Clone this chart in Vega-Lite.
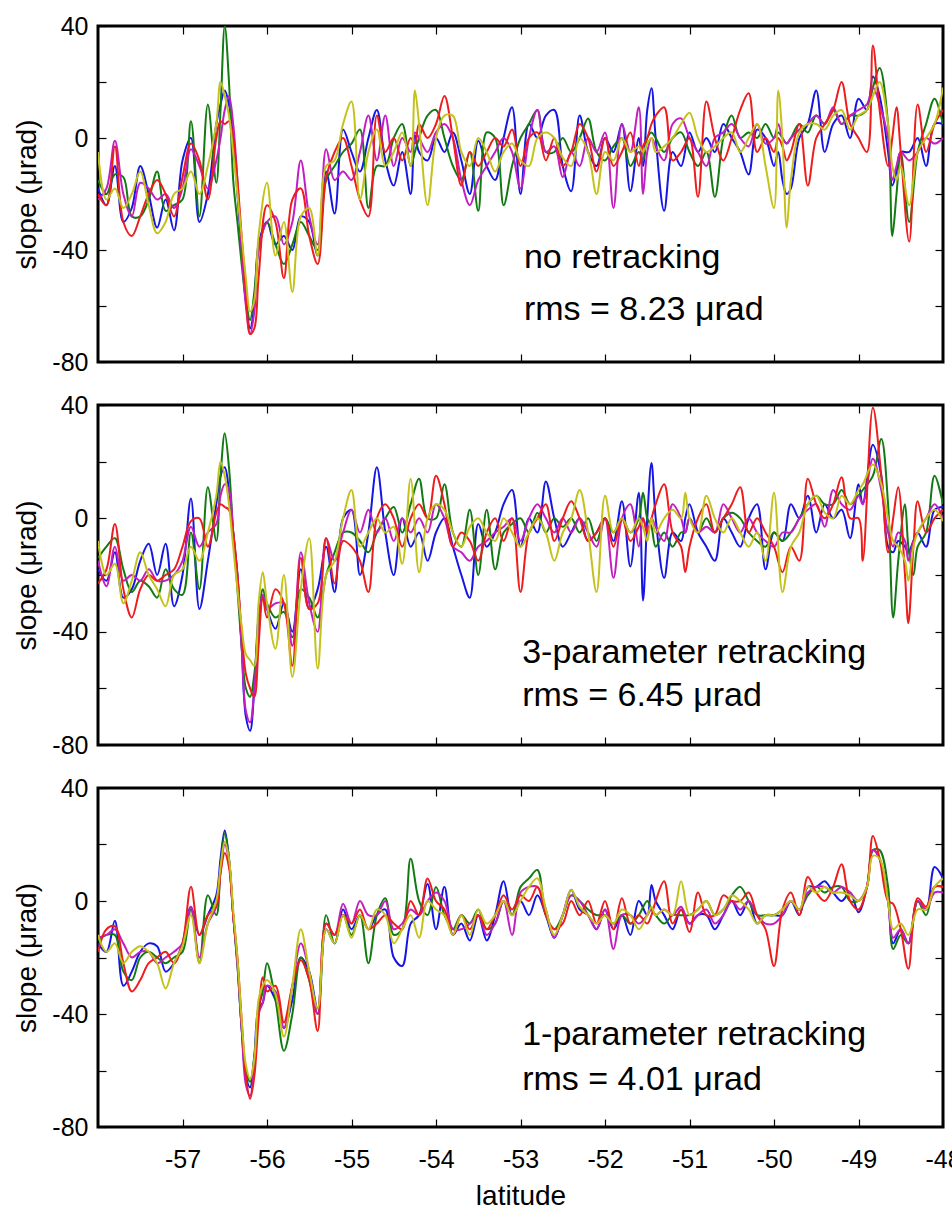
{
"$schema": "https://vega.github.io/schema/vega-lite/v6.json",
"background": "white",
"padding": {"left": 12, "top": 12, "right": 0, "bottom": 0},
"spacing": 43,
"bounds": "flush",
"config": {
  "view": {"stroke": "black", "strokeWidth": 3},
  "font": "Liberation Sans",
  "axis": {"domain": false, "grid": false, "ticks": true, "tickColor": "black", "tickWidth": 1.2, "tickSize": -8, "labelFlush": false, "labelFont": "Liberation Sans", "labelFontSize": 25, "labelColor": "black", "titleFont": "Liberation Sans", "titleFontWeight": "normal", "titleColor": "black"}
},
"datasets": {
"labels": [
  {"p": 1, "x": -52.96, "y": -46.4, "t": "no retracking"},
  {"p": 1, "x": -52.96, "y": -65, "t": "rms = 8.23 μrad"},
  {"p": 2, "x": -52.98, "y": -51, "t": "3-parameter retracking"},
  {"p": 2, "x": -52.98, "y": -66.2, "t": "rms = 6.45 μrad"},
  {"p": 3, "x": -52.98, "y": -51, "t": "1-parameter retracking"},
  {"p": 3, "x": -52.98, "y": -66.9, "t": "rms = 4.01 μrad"}
],
"series": [
{"p":1,"x":-58.0,"B":-18,"G":-15,"R":-20,"M":-22,"Y":-5},
{"p":1,"x":-57.9,"B":-24,"G":-20,"R":-24,"M":-18,"Y":-22},
{"p":1,"x":-57.8,"B":-10,"G":-13,"R":-3,"M":-1,"Y":-18},
{"p":1,"x":-57.7,"B":-30,"G":-14,"R":-30,"M":-20,"Y":-25},
{"p":1,"x":-57.6,"B":-25,"G":-28,"R":-35,"M":-28,"Y":-20},
{"p":1,"x":-57.5,"B":-10,"G":-28,"R":-28,"M":-16,"Y":-12},
{"p":1,"x":-57.4,"B":-20,"G":-22,"R":-20,"M":-18,"Y":-24},
{"p":1,"x":-57.3,"B":-32,"G":-12,"R":-15,"M":-22,"Y":-34},
{"p":1,"x":-57.2,"B":-22,"G":-26,"R":-20,"M":-20,"Y":-30},
{"p":1,"x":-57.1,"B":-33,"G":-24,"R":-28,"M":-25,"Y":-20},
{"p":1,"x":-57.0,"B":-8,"G":-22,"R":-14,"M":-18,"Y":-18},
{"p":1,"x":-56.9,"B":0,"G":6,"R":-2,"M":-4,"Y":-12},
{"p":1,"x":-56.8,"B":-30,"G":-28,"R":-8,"M":-10,"Y":-20},
{"p":1,"x":-56.7,"B":-20,"G":12,"R":-22,"M":-18,"Y":-10},
{"p":1,"x":-56.6,"B":5,"G":-16,"R":0,"M":-8,"Y":5},
{"p":1,"x":-56.55,"B":12,"G":10,"R":6,"M":0,"Y":20},
{"p":1,"x":-56.5,"B":17,"G":40,"R":5,"M":10,"Y":15},
{"p":1,"x":-56.45,"B":12,"G":20,"R":6,"M":15,"Y":8},
{"p":1,"x":-56.4,"B":0,"G":-15,"R":0,"M":5,"Y":-5},
{"p":1,"x":-56.35,"B":-20,"G":-30,"R":-15,"M":-15,"Y":-20},
{"p":1,"x":-56.3,"B":-40,"G":-45,"R":-35,"M":-40,"Y":-35},
{"p":1,"x":-56.25,"B":-58,"G":-58,"R":-55,"M":-60,"Y":-50},
{"p":1,"x":-56.2,"B":-68,"G":-65,"R":-70,"M":-70,"Y":-62},
{"p":1,"x":-56.15,"B":-60,"G":-55,"R":-68,"M":-62,"Y":-58},
{"p":1,"x":-56.1,"B":-38,"G":-40,"R":-50,"M":-40,"Y":-35},
{"p":1,"x":-56.0,"B":-30,"G":-30,"R":-24,"M":-30,"Y":-16},
{"p":1,"x":-55.9,"B":-38,"G":-38,"R":-30,"M":-28,"Y":-42},
{"p":1,"x":-55.8,"B":-35,"G":-45,"R":-50,"M":-38,"Y":-30},
{"p":1,"x":-55.7,"B":-40,"G":-38,"R":-22,"M":-30,"Y":-55},
{"p":1,"x":-55.6,"B":-28,"G":-30,"R":-18,"M":-8,"Y":-28},
{"p":1,"x":-55.5,"B":-30,"G":-35,"R":-35,"M":-28,"Y":-25},
{"p":1,"x":-55.4,"B":-42,"G":-40,"R":-45,"M":-38,"Y":-42},
{"p":1,"x":-55.3,"B":-12,"G":-15,"R":-14,"M":-4,"Y":-10},
{"p":1,"x":-55.2,"B":-27,"G":-10,"R":-5,"M":-15,"Y":-8},
{"p":1,"x":-55.1,"B":3,"G":-5,"R":0,"M":-12,"Y":5},
{"p":1,"x":-55.0,"B":-5,"G":-2,"R":-10,"M":-15,"Y":13},
{"p":1,"x":-54.9,"B":-12,"G":3,"R":-22,"M":-5,"Y":-22},
{"p":1,"x":-54.8,"B":0,"G":-25,"R":-28,"M":8,"Y":-5},
{"p":1,"x":-54.7,"B":10,"G":-10,"R":8,"M":-8,"Y":3},
{"p":1,"x":-54.6,"B":-8,"G":-10,"R":-5,"M":8,"Y":-10},
{"p":1,"x":-54.5,"B":-17,"G":0,"R":0,"M":-10,"Y":-5},
{"p":1,"x":-54.4,"B":-5,"G":5,"R":-8,"M":0,"Y":2},
{"p":1,"x":-54.3,"B":-20,"G":-10,"R":0,"M":-5,"Y":-10},
{"p":1,"x":-54.25,"B":1,"G":-5,"R":-2,"M":2,"Y":17},
{"p":1,"x":-54.2,"B":-5,"G":0,"R":5,"M":0,"Y":5},
{"p":1,"x":-54.1,"B":-8,"G":8,"R":0,"M":-5,"Y":-24},
{"p":1,"x":-54.0,"B":0,"G":10,"R":5,"M":2,"Y":0},
{"p":1,"x":-53.9,"B":-5,"G":0,"R":15,"M":5,"Y":8},
{"p":1,"x":-53.8,"B":2,"G":-10,"R":0,"M":0,"Y":8},
{"p":1,"x":-53.7,"B":-8,"G":-15,"R":-17,"M":-15,"Y":-5},
{"p":1,"x":-53.6,"B":-20,"G":-5,"R":-5,"M":-24,"Y":-10},
{"p":1,"x":-53.5,"B":-1,"G":-26,"R":-10,"M":-15,"Y":0},
{"p":1,"x":-53.4,"B":-10,"G":2,"R":-5,"M":-10,"Y":-5},
{"p":1,"x":-53.3,"B":-15,"G":0,"R":0,"M":-5,"Y":-12},
{"p":1,"x":-53.2,"B":0,"G":-24,"R":-3,"M":0,"Y":-5},
{"p":1,"x":-53.1,"B":11,"G":-10,"R":3,"M":-5,"Y":-2},
{"p":1,"x":-53.0,"B":-20,"G":0,"R":-10,"M":-18,"Y":-8},
{"p":1,"x":-52.9,"B":5,"G":5,"R":0,"M":0,"Y":-10},
{"p":1,"x":-52.8,"B":0,"G":10,"R":2,"M":10,"Y":0},
{"p":1,"x":-52.7,"B":8,"G":-5,"R":-8,"M":-5,"Y":2},
{"p":1,"x":-52.6,"B":10,"G":-5,"R":0,"M":-3,"Y":0},
{"p":1,"x":-52.5,"B":-10,"G":0,"R":-10,"M":-14,"Y":-7},
{"p":1,"x":-52.4,"B":-19,"G":-5,"R":-5,"M":-5,"Y":-10},
{"p":1,"x":-52.3,"B":8,"G":0,"R":5,"M":-10,"Y":0},
{"p":1,"x":-52.2,"B":-5,"G":7,"R":0,"M":0,"Y":-5},
{"p":1,"x":-52.1,"B":-10,"G":-5,"R":-12,"M":-5,"Y":-20},
{"p":1,"x":-52.0,"B":0,"G":-8,"R":0,"M":2,"Y":-5},
{"p":1,"x":-51.9,"B":-5,"G":-3,"R":-10,"M":-25,"Y":-8},
{"p":1,"x":-51.8,"B":5,"G":0,"R":-5,"M":5,"Y":0},
{"p":1,"x":-51.7,"B":-19,"G":-10,"R":2,"M":-5,"Y":-5},
{"p":1,"x":-51.6,"B":0,"G":-5,"R":-10,"M":11,"Y":-3},
{"p":1,"x":-51.55,"B":-10,"G":-8,"R":-3,"M":-20,"Y":-5},
{"p":1,"x":-51.5,"B":10,"G":0,"R":0,"M":-5,"Y":-2},
{"p":1,"x":-51.45,"B":17.8,"G":2,"R":5,"M":0,"Y":0},
{"p":1,"x":-51.4,"B":0,"G":0,"R":8,"M":-3,"Y":-5},
{"p":1,"x":-51.3,"B":-26,"G":-5,"R":11,"M":-8,"Y":-3},
{"p":1,"x":-51.2,"B":-5,"G":0,"R":-8,"M":5,"Y":0},
{"p":1,"x":-51.1,"B":-10,"G":2,"R":-5,"M":7,"Y":5},
{"p":1,"x":-51.0,"B":2,"G":-5,"R":0,"M":0,"Y":9},
{"p":1,"x":-50.9,"B":-5,"G":-10,"R":-21,"M":-5,"Y":0},
{"p":1,"x":-50.8,"B":0,"G":-5,"R":13,"M":-10,"Y":-5},
{"p":1,"x":-50.7,"B":-5,"G":-21,"R":0,"M":0,"Y":-3},
{"p":1,"x":-50.6,"B":5,"G":0,"R":-8,"M":2,"Y":0},
{"p":1,"x":-50.5,"B":0,"G":8,"R":0,"M":5,"Y":2},
{"p":1,"x":-50.4,"B":-5,"G":0,"R":10,"M":0,"Y":-5},
{"p":1,"x":-50.3,"B":-13,"G":2,"R":16,"M":-3,"Y":0},
{"p":1,"x":-50.2,"B":3,"G":0,"R":-5,"M":5,"Y":5},
{"p":1,"x":-50.1,"B":0,"G":5,"R":0,"M":-2,"Y":-10},
{"p":1,"x":-50.0,"B":-10,"G":0,"R":-5,"M":0,"Y":-25},
{"p":1,"x":-49.95,"B":-5,"G":2,"R":0,"M":5,"Y":17},
{"p":1,"x":-49.9,"B":-15,"G":0,"R":-3,"M":0,"Y":0},
{"p":1,"x":-49.85,"B":-20,"G":-2,"R":-8,"M":-2,"Y":-32},
{"p":1,"x":-49.8,"B":-18,"G":0,"R":-5,"M":0,"Y":-15},
{"p":1,"x":-49.7,"B":0,"G":5,"R":5,"M":3,"Y":2},
{"p":1,"x":-49.6,"B":5,"G":2,"R":-17,"M":5,"Y":5},
{"p":1,"x":-49.5,"B":17,"G":8,"R":0,"M":8,"Y":5},
{"p":1,"x":-49.4,"B":-5,"G":5,"R":5,"M":5,"Y":3},
{"p":1,"x":-49.3,"B":5,"G":10,"R":10,"M":11,"Y":8},
{"p":1,"x":-49.2,"B":8,"G":5,"R":20,"M":5,"Y":10},
{"p":1,"x":-49.1,"B":0,"G":8,"R":5,"M":8,"Y":3},
{"p":1,"x":-49.0,"B":14,"G":8,"R":0,"M":10,"Y":8},
{"p":1,"x":-48.9,"B":10,"G":10,"R":-5,"M":12,"Y":10},
{"p":1,"x":-48.83,"B":22,"G":18,"R":33,"M":18,"Y":15},
{"p":1,"x":-48.75,"B":15,"G":25,"R":10,"M":12,"Y":20},
{"p":1,"x":-48.65,"B":-5,"G":5,"R":-10,"M":0,"Y":5},
{"p":1,"x":-48.6,"B":-17,"G":-35,"R":0,"M":-15,"Y":-10},
{"p":1,"x":-48.55,"B":-12,"G":-20,"R":11,"M":-10,"Y":-15},
{"p":1,"x":-48.5,"B":-5,"G":-5,"R":-5,"M":-5,"Y":-10},
{"p":1,"x":-48.4,"B":-5,"G":-30,"R":-37,"M":-8,"Y":-24},
{"p":1,"x":-48.3,"B":0,"G":-5,"R":12,"M":-5,"Y":-5},
{"p":1,"x":-48.2,"B":-10,"G":5,"R":-5,"M":0,"Y":0},
{"p":1,"x":-48.1,"B":5,"G":14,"R":5,"M":-2,"Y":5},
{"p":1,"x":-48.0,"B":5,"G":5,"R":10,"M":0,"Y":18},
{"p":2,"x":-58.0,"B":-18,"G":-14,"R":-23,"M":-15,"Y":-8},
{"p":2,"x":-57.9,"B":-22,"G":-10,"R":-18,"M":-24,"Y":-20},
{"p":2,"x":-57.8,"B":-12,"G":-7,"R":-2,"M":-10,"Y":-16},
{"p":2,"x":-57.7,"B":-28,"G":-18,"R":-25,"M":-22,"Y":-30},
{"p":2,"x":-57.6,"B":-25,"G":-26,"R":-35,"M":-20,"Y":-22},
{"p":2,"x":-57.5,"B":-15,"G":-22,"R":-25,"M":-22,"Y":-12},
{"p":2,"x":-57.4,"B":-9,"G":-24,"R":-20,"M":-18,"Y":-20},
{"p":2,"x":-57.3,"B":-20,"G":-28,"R":-22,"M":-22,"Y":-25},
{"p":2,"x":-57.2,"B":-9,"G":-18,"R":-20,"M":-22,"Y":-31},
{"p":2,"x":-57.1,"B":-31,"G":-25,"R":-18,"M":-20,"Y":-20},
{"p":2,"x":-57.0,"B":-20,"G":-27,"R":-10,"M":-15,"Y":-18},
{"p":2,"x":-56.9,"B":7,"G":-5,"R":-1,"M":-3,"Y":-10},
{"p":2,"x":-56.8,"B":-32,"G":-25,"R":0,"M":-10,"Y":-15},
{"p":2,"x":-56.7,"B":-15,"G":11,"R":-10,"M":-5,"Y":-5},
{"p":2,"x":-56.6,"B":5,"G":-8,"R":2,"M":-2,"Y":8},
{"p":2,"x":-56.55,"B":15,"G":15,"R":5,"M":8,"Y":20},
{"p":2,"x":-56.5,"B":18,"G":30,"R":4,"M":12,"Y":15},
{"p":2,"x":-56.45,"B":10,"G":18,"R":3,"M":10,"Y":5},
{"p":2,"x":-56.4,"B":-5,"G":-5,"R":-5,"M":-5,"Y":-10},
{"p":2,"x":-56.35,"B":-20,"G":-25,"R":-20,"M":-20,"Y":-25},
{"p":2,"x":-56.3,"B":-45,"G":-45,"R":-40,"M":-45,"Y":-38},
{"p":2,"x":-56.25,"B":-70,"G":-60,"R":-55,"M":-68,"Y":-48},
{"p":2,"x":-56.2,"B":-75,"G":-63,"R":-60,"M":-72,"Y":-50},
{"p":2,"x":-56.15,"B":-60,"G":-55,"R":-63,"M":-60,"Y":-52},
{"p":2,"x":-56.1,"B":-35,"G":-38,"R":-45,"M":-40,"Y":-30},
{"p":2,"x":-56.05,"B":-28,"G":-25,"R":-28,"M":-27,"Y":-19},
{"p":2,"x":-56.0,"B":-32,"G":-30,"R":-35,"M":-32,"Y":-30},
{"p":2,"x":-55.9,"B":-39,"G":-35,"R":-25,"M":-30,"Y":-46},
{"p":2,"x":-55.8,"B":-30,"G":-33,"R":-30,"M":-30,"Y":-20},
{"p":2,"x":-55.7,"B":-40,"G":-42,"R":-52,"M":-45,"Y":-56},
{"p":2,"x":-55.6,"B":-18,"G":-25,"R":-14,"M":-12,"Y":-25},
{"p":2,"x":-55.5,"B":-32,"G":-28,"R":-32,"M":-30,"Y":-7},
{"p":2,"x":-55.4,"B":-25,"G":-35,"R":-30,"M":-40,"Y":-53},
{"p":2,"x":-55.3,"B":-10,"G":-20,"R":-7,"M":-7,"Y":-20},
{"p":2,"x":-55.2,"B":-26,"G":-12,"R":-23,"M":-15,"Y":-15},
{"p":2,"x":-55.1,"B":0,"G":-5,"R":-8,"M":-5,"Y":0},
{"p":2,"x":-55.0,"B":3,"G":-5,"R":-10,"M":3,"Y":10},
{"p":2,"x":-54.9,"B":-20,"G":-8,"R":-15,"M":-5,"Y":-10},
{"p":2,"x":-54.8,"B":-5,"G":-12,"R":-26,"M":3,"Y":-5},
{"p":2,"x":-54.7,"B":18,"G":-5,"R":0,"M":-5,"Y":0},
{"p":2,"x":-54.6,"B":-5,"G":0,"R":5,"M":0,"Y":-5},
{"p":2,"x":-54.5,"B":-20,"G":4,"R":0,"M":-8,"Y":-3},
{"p":2,"x":-54.4,"B":0,"G":-5,"R":-10,"M":0,"Y":-16},
{"p":2,"x":-54.3,"B":-10,"G":5,"R":0,"M":-5,"Y":14},
{"p":2,"x":-54.2,"B":-5,"G":14,"R":5,"M":0,"Y":-19},
{"p":2,"x":-54.1,"B":-15,"G":0,"R":0,"M":-5,"Y":0},
{"p":2,"x":-54.0,"B":-5,"G":0,"R":15,"M":5,"Y":5},
{"p":2,"x":-53.9,"B":0,"G":12,"R":5,"M":0,"Y":3},
{"p":2,"x":-53.8,"B":-10,"G":-5,"R":-10,"M":-10,"Y":-5},
{"p":2,"x":-53.7,"B":-20,"G":-10,"R":-5,"M":-12,"Y":-10},
{"p":2,"x":-53.6,"B":-28,"G":3,"R":-8,"M":-15,"Y":-3},
{"p":2,"x":-53.5,"B":-2,"G":-20,"R":-15,"M":-10,"Y":0},
{"p":2,"x":-53.4,"B":-10,"G":3,"R":-5,"M":-8,"Y":-5},
{"p":2,"x":-53.3,"B":-5,"G":-18,"R":0,"M":-5,"Y":-8},
{"p":2,"x":-53.2,"B":5,"G":-5,"R":-8,"M":-3,"Y":0},
{"p":2,"x":-53.1,"B":10,"G":-2,"R":0,"M":0,"Y":-5},
{"p":2,"x":-53.0,"B":-10,"G":0,"R":-26,"M":-8,"Y":-10},
{"p":2,"x":-52.9,"B":0,"G":-5,"R":-5,"M":0,"Y":-5},
{"p":2,"x":-52.8,"B":-5,"G":2,"R":0,"M":5,"Y":0},
{"p":2,"x":-52.7,"B":13,"G":-5,"R":5,"M":0,"Y":-5},
{"p":2,"x":-52.6,"B":0,"G":0,"R":-8,"M":-5,"Y":-15},
{"p":2,"x":-52.5,"B":-10,"G":-3,"R":0,"M":0,"Y":-5},
{"p":2,"x":-52.4,"B":-5,"G":0,"R":6,"M":-5,"Y":0},
{"p":2,"x":-52.3,"B":0,"G":-5,"R":0,"M":0,"Y":10},
{"p":2,"x":-52.2,"B":-8,"G":0,"R":-8,"M":-5,"Y":-5},
{"p":2,"x":-52.1,"B":-5,"G":-8,"R":-5,"M":-10,"Y":-26},
{"p":2,"x":-52.0,"B":0,"G":0,"R":0,"M":0,"Y":8},
{"p":2,"x":-51.9,"B":-8,"G":-5,"R":-10,"M":-21,"Y":-5},
{"p":2,"x":-51.8,"B":6,"G":0,"R":0,"M":0,"Y":0},
{"p":2,"x":-51.7,"B":-17,"G":-5,"R":-8,"M":5,"Y":-5},
{"p":2,"x":-51.6,"B":9,"G":0,"R":-3,"M":-10,"Y":0},
{"p":2,"x":-51.55,"B":-29,"G":9,"R":0,"M":0,"Y":-3},
{"p":2,"x":-51.5,"B":0,"G":0,"R":-5,"M":-5,"Y":-8},
{"p":2,"x":-51.45,"B":19.5,"G":-3,"R":0,"M":0,"Y":0},
{"p":2,"x":-51.4,"B":0,"G":-10,"R":5,"M":-3,"Y":-5},
{"p":2,"x":-51.3,"B":-21,"G":-5,"R":12,"M":-8,"Y":0},
{"p":2,"x":-51.2,"B":-5,"G":-10,"R":-5,"M":5,"Y":3},
{"p":2,"x":-51.1,"B":-8,"G":-5,"R":-10,"M":0,"Y":0},
{"p":2,"x":-51.05,"B":0,"G":-5,"R":-19,"M":-5,"Y":9},
{"p":2,"x":-51.0,"B":5,"G":0,"R":-10,"M":0,"Y":0},
{"p":2,"x":-50.9,"B":-5,"G":-5,"R":0,"M":-5,"Y":-5},
{"p":2,"x":-50.8,"B":-10,"G":0,"R":5,"M":-3,"Y":8},
{"p":2,"x":-50.7,"B":-15,"G":-5,"R":-5,"M":-5,"Y":0},
{"p":2,"x":-50.6,"B":0,"G":0,"R":0,"M":5,"Y":-5},
{"p":2,"x":-50.5,"B":-5,"G":2,"R":5,"M":0,"Y":0},
{"p":2,"x":-50.4,"B":-10,"G":0,"R":11,"M":-5,"Y":-5},
{"p":2,"x":-50.3,"B":0,"G":-5,"R":-5,"M":0,"Y":-10},
{"p":2,"x":-50.2,"B":5,"G":-8,"R":0,"M":-5,"Y":-5},
{"p":2,"x":-50.1,"B":-18,"G":-10,"R":-5,"M":-8,"Y":-15},
{"p":2,"x":-50.0,"B":-5,"G":-5,"R":-10,"M":-10,"Y":9},
{"p":2,"x":-49.9,"B":-8,"G":-8,"R":-19,"M":-5,"Y":-26},
{"p":2,"x":-49.8,"B":5,"G":-5,"R":-10,"M":-5,"Y":-10},
{"p":2,"x":-49.7,"B":0,"G":0,"R":-15,"M":0,"Y":-5},
{"p":2,"x":-49.6,"B":8,"G":5,"R":14,"M":3,"Y":5},
{"p":2,"x":-49.5,"B":-5,"G":8,"R":5,"M":5,"Y":8},
{"p":2,"x":-49.4,"B":5,"G":5,"R":0,"M":-3,"Y":2},
{"p":2,"x":-49.3,"B":0,"G":5,"R":5,"M":10,"Y":0},
{"p":2,"x":-49.2,"B":3,"G":10,"R":14.5,"M":5,"Y":8},
{"p":2,"x":-49.1,"B":-7,"G":5,"R":0,"M":3,"Y":5},
{"p":2,"x":-49.0,"B":12,"G":8,"R":0,"M":8,"Y":10},
{"p":2,"x":-48.95,"B":5,"G":10,"R":-15,"M":5,"Y":12},
{"p":2,"x":-48.83,"B":26,"G":15,"R":39,"M":21,"Y":19},
{"p":2,"x":-48.73,"B":15,"G":28,"R":15,"M":10,"Y":12},
{"p":2,"x":-48.65,"B":-10,"G":5,"R":-12,"M":-5,"Y":0},
{"p":2,"x":-48.59,"B":-12,"G":-35,"R":0,"M":-10,"Y":-8},
{"p":2,"x":-48.53,"B":-8,"G":-15,"R":11,"M":-5,"Y":-10},
{"p":2,"x":-48.45,"B":-10,"G":5,"R":-20,"M":-8,"Y":-15},
{"p":2,"x":-48.41,"B":-12,"G":-10,"R":-37,"M":-15,"Y":-22},
{"p":2,"x":-48.35,"B":-8,"G":-20,"R":-10,"M":-8,"Y":-10},
{"p":2,"x":-48.3,"B":-5,"G":-10,"R":6,"M":-5,"Y":-5},
{"p":2,"x":-48.2,"B":-10,"G":-5,"R":-5,"M":0,"Y":0},
{"p":2,"x":-48.1,"B":3,"G":15,"R":0,"M":5,"Y":3},
{"p":2,"x":-48.0,"B":4,"G":5,"R":3,"M":0,"Y":-1},
{"p":3,"x":-58.0,"B":-15,"G":-14,"R":-18,"M":-13,"Y":-12},
{"p":3,"x":-57.9,"B":-18,"G":-12,"R":-10,"M":-12,"Y":-18},
{"p":3,"x":-57.8,"B":-7,"G":-12,"R":-9,"M":-10,"Y":-15},
{"p":3,"x":-57.7,"B":-30,"G":-25,"R":-22,"M":-15,"Y":-22},
{"p":3,"x":-57.6,"B":-25,"G":-28,"R":-32,"M":-20,"Y":-18},
{"p":3,"x":-57.5,"B":-18,"G":-20,"R":-28,"M":-18,"Y":-16},
{"p":3,"x":-57.4,"B":-15,"G":-18,"R":-22,"M":-18,"Y":-18},
{"p":3,"x":-57.3,"B":-16,"G":-20,"R":-20,"M":-22,"Y":-22},
{"p":3,"x":-57.2,"B":-25,"G":-22,"R":-18,"M":-20,"Y":-31},
{"p":3,"x":-57.1,"B":-22,"G":-20,"R":-22,"M":-18,"Y":-22},
{"p":3,"x":-57.0,"B":-15,"G":-18,"R":-15,"M":-15,"Y":-16},
{"p":3,"x":-56.9,"B":-2,"G":-3,"R":5,"M":-2,"Y":-5},
{"p":3,"x":-56.8,"B":-12,"G":-22,"R":-12,"M":-20,"Y":-22},
{"p":3,"x":-56.7,"B":-5,"G":2,"R":-5,"M":-8,"Y":-8},
{"p":3,"x":-56.6,"B":2,"G":-5,"R":-2,"M":-2,"Y":0},
{"p":3,"x":-56.55,"B":15,"G":12,"R":10,"M":10,"Y":12},
{"p":3,"x":-56.5,"B":25,"G":24,"R":17,"M":20,"Y":21},
{"p":3,"x":-56.45,"B":15,"G":15,"R":12,"M":14,"Y":15},
{"p":3,"x":-56.4,"B":-5,"G":-5,"R":-5,"M":-5,"Y":-3},
{"p":3,"x":-56.35,"B":-22,"G":-23,"R":-20,"M":-22,"Y":-20},
{"p":3,"x":-56.3,"B":-45,"G":-45,"R":-42,"M":-45,"Y":-42},
{"p":3,"x":-56.25,"B":-62,"G":-60,"R":-62,"M":-65,"Y":-58},
{"p":3,"x":-56.2,"B":-66,"G":-64,"R":-70,"M":-69,"Y":-63},
{"p":3,"x":-56.15,"B":-55,"G":-55,"R":-62,"M":-58,"Y":-56},
{"p":3,"x":-56.1,"B":-38,"G":-38,"R":-42,"M":-40,"Y":-35},
{"p":3,"x":-56.05,"B":-36,"G":-32,"R":-27,"M":-36,"Y":-30},
{"p":3,"x":-56.0,"B":-30,"G":-22,"R":-32,"M":-30,"Y":-28},
{"p":3,"x":-55.9,"B":-35,"G":-35,"R":-30,"M":-32,"Y":-33},
{"p":3,"x":-55.8,"B":-45,"G":-53,"R":-43,"M":-45,"Y":-48},
{"p":3,"x":-55.7,"B":-35,"G":-40,"R":-30,"M":-30,"Y":-30},
{"p":3,"x":-55.6,"B":-20,"G":-20,"R":-21,"M":-15,"Y":-10},
{"p":3,"x":-55.5,"B":-25,"G":-28,"R":-28,"M":-25,"Y":-25},
{"p":3,"x":-55.4,"B":-38,"G":-40,"R":-46,"M":-40,"Y":-38},
{"p":3,"x":-55.3,"B":-10,"G":-5,"R":-8,"M":-8,"Y":-10},
{"p":3,"x":-55.2,"B":-15,"G":-15,"R":-12,"M":-12,"Y":-15},
{"p":3,"x":-55.1,"B":-3,"G":-5,"R":-5,"M":-1,"Y":-5},
{"p":3,"x":-55.0,"B":-10,"G":-12,"R":-8,"M":-8,"Y":-13},
{"p":3,"x":-54.9,"B":-5,"G":-5,"R":-3,"M":0,"Y":-5},
{"p":3,"x":-54.8,"B":-10,"G":-22,"R":-10,"M":-5,"Y":-10},
{"p":3,"x":-54.7,"B":-5,"G":-5,"R":-8,"M":-5,"Y":-3},
{"p":3,"x":-54.6,"B":-3,"G":1,"R":-5,"M":0,"Y":-5},
{"p":3,"x":-54.5,"B":-20,"G":-12,"R":-8,"M":-10,"Y":-15},
{"p":3,"x":-54.4,"B":-23,"G":-10,"R":-10,"M":-8,"Y":-10},
{"p":3,"x":-54.3,"B":-8,"G":15,"R":0,"M":-3,"Y":-5},
{"p":3,"x":-54.2,"B":-5,"G":0,"R":-5,"M":-5,"Y":-13},
{"p":3,"x":-54.1,"B":6,"G":-5,"R":8,"M":0,"Y":0},
{"p":3,"x":-54.0,"B":-10,"G":5,"R":0,"M":3,"Y":-3},
{"p":3,"x":-53.9,"B":5,"G":-5,"R":-3,"M":0,"Y":-5},
{"p":3,"x":-53.8,"B":-12,"G":-10,"R":-12,"M":-10,"Y":-12},
{"p":3,"x":-53.7,"B":-8,"G":-5,"R":-5,"M":-10,"Y":-5},
{"p":3,"x":-53.6,"B":-14,"G":-8,"R":-10,"M":-8,"Y":-12},
{"p":3,"x":-53.5,"B":-5,"G":-3,"R":-5,"M":-5,"Y":-3},
{"p":3,"x":-53.4,"B":-14,"G":-10,"R":-10,"M":-12,"Y":-8},
{"p":3,"x":-53.3,"B":-5,"G":-8,"R":-5,"M":-8,"Y":-5},
{"p":3,"x":-53.2,"B":7,"G":0,"R":2,"M":0,"Y":0},
{"p":3,"x":-53.1,"B":-5,"G":-5,"R":-3,"M":-12,"Y":-5},
{"p":3,"x":-53.0,"B":0,"G":5,"R":2,"M":3,"Y":0},
{"p":3,"x":-52.9,"B":-5,"G":8,"R":0,"M":5,"Y":5},
{"p":3,"x":-52.8,"B":2,"G":11,"R":5,"M":5,"Y":8},
{"p":3,"x":-52.7,"B":-5,"G":-5,"R":-5,"M":-3,"Y":-3},
{"p":3,"x":-52.6,"B":-13,"G":-10,"R":-10,"M":-13,"Y":-12},
{"p":3,"x":-52.5,"B":-5,"G":-5,"R":-8,"M":-5,"Y":-5},
{"p":3,"x":-52.4,"B":4,"G":2,"R":0,"M":2,"Y":4},
{"p":3,"x":-52.3,"B":-3,"G":0,"R":-5,"M":0,"Y":-2},
{"p":3,"x":-52.2,"B":-5,"G":-3,"R":0,"M":-5,"Y":-5},
{"p":3,"x":-52.1,"B":-10,"G":-5,"R":-8,"M":-10,"Y":-8},
{"p":3,"x":-52.0,"B":-3,"G":-5,"R":0,"M":-3,"Y":-5},
{"p":3,"x":-51.9,"B":-10,"G":-8,"R":-10,"M":-17,"Y":-8},
{"p":3,"x":-51.8,"B":-5,"G":-5,"R":1,"M":-5,"Y":-3},
{"p":3,"x":-51.7,"B":-12,"G":-8,"R":-8,"M":-5,"Y":-5},
{"p":3,"x":-51.6,"B":0,"G":-5,"R":-5,"M":-8,"Y":-10},
{"p":3,"x":-51.5,"B":-5,"G":0,"R":-8,"M":-5,"Y":-5},
{"p":3,"x":-51.45,"B":5.7,"G":-3,"R":-5,"M":-3,"Y":-2},
{"p":3,"x":-51.4,"B":0,"G":-5,"R":0,"M":-5,"Y":-5},
{"p":3,"x":-51.3,"B":-5,"G":-8,"R":7,"M":-3,"Y":-3},
{"p":3,"x":-51.2,"B":-10,"G":-5,"R":-8,"M":-5,"Y":-5},
{"p":3,"x":-51.1,"B":-3,"G":-5,"R":-3,"M":-2,"Y":7},
{"p":3,"x":-51.0,"B":-8,"G":-5,"R":-11,"M":-8,"Y":-5},
{"p":3,"x":-50.9,"B":-5,"G":-3,"R":3,"M":-5,"Y":-3},
{"p":3,"x":-50.8,"B":-5,"G":0,"R":-5,"M":-3,"Y":0},
{"p":3,"x":-50.7,"B":-10,"G":-5,"R":-5,"M":-8,"Y":-5},
{"p":3,"x":-50.6,"B":-5,"G":-3,"R":2,"M":-5,"Y":-3},
{"p":3,"x":-50.5,"B":0,"G":2,"R":0,"M":0,"Y":2},
{"p":3,"x":-50.4,"B":-5,"G":5,"R":0,"M":-3,"Y":0},
{"p":3,"x":-50.3,"B":0,"G":0,"R":3,"M":0,"Y":-3},
{"p":3,"x":-50.2,"B":-8,"G":-5,"R":-5,"M":-5,"Y":-8},
{"p":3,"x":-50.1,"B":-5,"G":-5,"R":-10,"M":-8,"Y":-5},
{"p":3,"x":-50.0,"B":-5,"G":-5,"R":-23,"M":-8,"Y":-5},
{"p":3,"x":-49.9,"B":-5,"G":-3,"R":-3,"M":-5,"Y":-3},
{"p":3,"x":-49.8,"B":0,"G":0,"R":3,"M":0,"Y":0},
{"p":3,"x":-49.7,"B":-5,"G":-3,"R":-5,"M":-3,"Y":-3},
{"p":3,"x":-49.6,"B":5,"G":2,"R":8.5,"M":3,"Y":5},
{"p":3,"x":-49.5,"B":5,"G":5,"R":3,"M":5,"Y":3},
{"p":3,"x":-49.4,"B":7,"G":3,"R":0,"M":5,"Y":5},
{"p":3,"x":-49.3,"B":3,"G":5,"R":5,"M":3,"Y":3},
{"p":3,"x":-49.2,"B":0,"G":5,"R":13,"M":5,"Y":3},
{"p":3,"x":-49.1,"B":3,"G":0,"R":0,"M":3,"Y":2},
{"p":3,"x":-49.0,"B":-4,"G":0,"R":-3,"M":0,"Y":0},
{"p":3,"x":-48.9,"B":5,"G":5,"R":5,"M":5,"Y":5},
{"p":3,"x":-48.83,"B":18,"G":18,"R":23,"M":18,"Y":16},
{"p":3,"x":-48.75,"B":15,"G":18,"R":15,"M":15,"Y":15},
{"p":3,"x":-48.65,"B":0,"G":5,"R":0,"M":0,"Y":0},
{"p":3,"x":-48.59,"B":-15,"G":-17,"R":-1,"M":-13,"Y":-10},
{"p":3,"x":-48.5,"B":-10,"G":-12,"R":-10,"M":-10,"Y":-8},
{"p":3,"x":-48.41,"B":-15,"G":-15,"R":-24,"M":-15,"Y":-12},
{"p":3,"x":-48.3,"B":0,"G":0,"R":1,"M":0,"Y":-3},
{"p":3,"x":-48.2,"B":-3,"G":-5,"R":-2,"M":-3,"Y":-3},
{"p":3,"x":-48.1,"B":12,"G":5,"R":5,"M":3,"Y":5},
{"p":3,"x":-48.0,"B":8,"G":5,"R":5,"M":3,"Y":8}
]
},
"vconcat": [
{
 "width": 845, "height": 336,
 "resolve": {"axis": {"x": "independent", "y": "independent"}},
 "layer": [
  {"data": {"name": "series"},
   "transform": [{"filter": "datum.p == 1"}, {"fold": ["B", "G", "M", "R", "Y"], "as": ["s", "v"]}],
   "mark": {"type": "line", "interpolate": "catmull-rom", "strokeWidth": 2, "clip": true},
   "encoding": {
    "x": {"field": "x", "type": "quantitative", "scale": {"domain": [-58, -48], "nice": false, "zero": false}, "axis": {"orient": "bottom", "values": [-57,-56,-55,-54,-53,-52,-51,-50,-49], "labels": false, "title": null}},
    "y": {"field": "v", "type": "quantitative", "scale": {"domain": [-80, 40], "nice": false, "zero": false}, "axis": {"orient": "left", "values": [-80,-60,-40,-20,0,20,40], "labelExpr": "datum.value % 40 === 0 ? '' + datum.value : ''", "labelPadding": 18, "title": "slope (μrad)", "titleFontSize": 28, "titlePadding": 10}},
    "color": {"field": "s", "type": "nominal", "scale": {"domain": ["B", "G", "M", "R", "Y"], "range": ["#1515e6", "#127a12", "#c21fc2", "#ee1c1c", "#c4c21a"]}, "legend": null}
   }},
  {"data": {"name": "labels"},
   "transform": [{"filter": "datum.p == 1"}],
   "mark": {"type": "text", "align": "left", "baseline": "alphabetic", "fontSize": 34, "font": "Liberation Sans", "color": "black"},
   "encoding": {
    "x": {"field": "x", "type": "quantitative", "scale": {"domain": [-58, -48], "nice": false, "zero": false}, "axis": {"orient": "top", "values": [-57,-56,-55,-54,-53,-52,-51,-50,-49], "labels": false, "title": null}},
    "y": {"field": "y", "type": "quantitative", "scale": {"domain": [-80, 40], "nice": false, "zero": false}, "axis": {"orient": "right", "values": [-60,-40,-20,0,20], "labels": false, "title": null}},
    "text": {"field": "t", "type": "nominal"}
   }}
 ]
},
{
 "width": 845, "height": 340,
 "resolve": {"axis": {"x": "independent", "y": "independent"}},
 "layer": [
  {"data": {"name": "series"},
   "transform": [{"filter": "datum.p == 2"}, {"fold": ["B", "G", "M", "R", "Y"], "as": ["s", "v"]}],
   "mark": {"type": "line", "interpolate": "catmull-rom", "strokeWidth": 2, "clip": true},
   "encoding": {
    "x": {"field": "x", "type": "quantitative", "scale": {"domain": [-58, -48], "nice": false, "zero": false}, "axis": {"orient": "bottom", "values": [-57,-56,-55,-54,-53,-52,-51,-50,-49], "labels": false, "title": null}},
    "y": {"field": "v", "type": "quantitative", "scale": {"domain": [-80, 40], "nice": false, "zero": false}, "axis": {"orient": "left", "values": [-80,-60,-40,-20,0,20,40], "labelExpr": "datum.value % 40 === 0 ? '' + datum.value : ''", "labelPadding": 18, "title": "slope (μrad)", "titleFontSize": 28, "titlePadding": 10}},
    "color": {"field": "s", "type": "nominal", "scale": {"domain": ["B", "G", "M", "R", "Y"], "range": ["#1515e6", "#127a12", "#c21fc2", "#ee1c1c", "#c4c21a"]}, "legend": null}
   }},
  {"data": {"name": "labels"},
   "transform": [{"filter": "datum.p == 2"}],
   "mark": {"type": "text", "align": "left", "baseline": "alphabetic", "fontSize": 34, "font": "Liberation Sans", "color": "black"},
   "encoding": {
    "x": {"field": "x", "type": "quantitative", "scale": {"domain": [-58, -48], "nice": false, "zero": false}, "axis": {"orient": "top", "values": [-57,-56,-55,-54,-53,-52,-51,-50,-49], "labels": false, "title": null}},
    "y": {"field": "y", "type": "quantitative", "scale": {"domain": [-80, 40], "nice": false, "zero": false}, "axis": {"orient": "right", "values": [-60,-40,-20,0,20], "labels": false, "title": null}},
    "text": {"field": "t", "type": "nominal"}
   }}
 ]
},
{
 "width": 845, "height": 339,
 "resolve": {"axis": {"x": "independent", "y": "independent"}},
 "layer": [
  {"data": {"name": "series"},
   "transform": [{"filter": "datum.p == 3"}, {"fold": ["B", "G", "M", "R", "Y"], "as": ["s", "v"]}],
   "mark": {"type": "line", "interpolate": "catmull-rom", "strokeWidth": 2, "clip": true},
   "encoding": {
    "x": {"field": "x", "type": "quantitative", "scale": {"domain": [-58, -48], "nice": false, "zero": false}, "axis": {"orient": "bottom", "values": [-57,-56,-55,-54,-53,-52,-51,-50,-49,-48], "labelExpr": "'' + datum.value", "labelPadding": 28, "title": "latitude", "titleFontSize": 28, "titlePadding": 10}},
    "y": {"field": "v", "type": "quantitative", "scale": {"domain": [-80, 40], "nice": false, "zero": false}, "axis": {"orient": "left", "values": [-80,-60,-40,-20,0,20,40], "labelExpr": "datum.value % 40 === 0 ? '' + datum.value : ''", "labelPadding": 18, "title": "slope (μrad)", "titleFontSize": 28, "titlePadding": 10}},
    "color": {"field": "s", "type": "nominal", "scale": {"domain": ["B", "G", "M", "R", "Y"], "range": ["#1515e6", "#127a12", "#c21fc2", "#ee1c1c", "#c4c21a"]}, "legend": null}
   }},
  {"data": {"name": "labels"},
   "transform": [{"filter": "datum.p == 3"}],
   "mark": {"type": "text", "align": "left", "baseline": "alphabetic", "fontSize": 34, "font": "Liberation Sans", "color": "black"},
   "encoding": {
    "x": {"field": "x", "type": "quantitative", "scale": {"domain": [-58, -48], "nice": false, "zero": false}, "axis": {"orient": "top", "values": [-57,-56,-55,-54,-53,-52,-51,-50,-49], "labels": false, "title": null}},
    "y": {"field": "y", "type": "quantitative", "scale": {"domain": [-80, 40], "nice": false, "zero": false}, "axis": {"orient": "right", "values": [-60,-40,-20,0,20], "labels": false, "title": null}},
    "text": {"field": "t", "type": "nominal"}
   }}
 ]
}
]
}
